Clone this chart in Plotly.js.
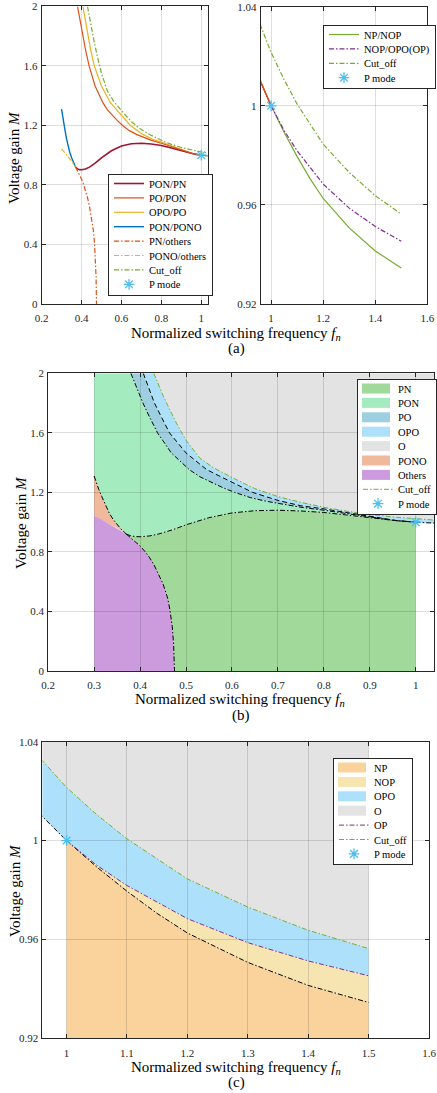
<!DOCTYPE html>
<html><head><meta charset="utf-8">
<script src="https://cdn.plot.ly/plotly-3.0.1.min.js"></script>
<style>html,body{margin:0;padding:0;background:#fff}#chart{width:437px;height:1093px}</style>
</head><body><div id="chart"></div>
<script>
// ---------- data ----------
const fnPNPON = [0.37,0.38,0.39,0.40,0.42,0.44,0.47,0.50,0.55,0.60,0.65,0.70,0.75,0.80,0.85,0.90,0.95,0.96,1.00];
const mPNPON  = [0.920,0.908,0.903,0.902,0.907,0.920,0.948,0.982,1.030,1.062,1.077,1.080,1.075,1.065,1.048,1.028,1.0125,1.0095,1.000];

const fnPOPON = [0.38,0.39,0.406,0.42,0.438,0.45,0.468,0.49,0.507,0.53,0.558,0.58,0.606,0.64,0.675,0.70,0.75,0.80,0.85,0.90,0.95,0.96,1.00];
const mPOPON  = [2.0,1.924,1.802,1.71,1.60,1.546,1.465,1.402,1.353,1.305,1.263,1.232,1.20,1.165,1.14,1.125,1.10,1.08,1.057,1.032,1.013,1.0097,1.0];

const fnOPOPO = [0.407,0.42,0.431,0.445,0.464,0.48,0.50,0.52,0.545,0.57,0.602,0.645,0.70,0.75,0.80,0.85,0.90,0.95,0.96,1.00];
const mOPOPO  = [2.0,1.893,1.802,1.715,1.60,1.54,1.465,1.415,1.353,1.314,1.263,1.20,1.146,1.11,1.089,1.064,1.038,1.014,1.0099,1.0];

const fnPONPONO = [0.30,0.305,0.31,0.317,0.325,0.333,0.341,0.35,0.358,0.366,0.37];
const mPONPONO  = [1.31,1.26,1.22,1.17,1.11,1.06,1.02,0.985,0.955,0.932,0.92];

const fnPONOOth = [0.30,0.315,0.327,0.338,0.349,0.358,0.366,0.37];
const mPONOOth  = [1.043,1.02,0.998,0.98,0.962,0.945,0.928,0.92];

const fnPNOth = [0.37,0.38,0.39,0.40,0.41,0.42,0.43,0.44,0.45,0.46,0.465,0.47,0.473,0.475];
const mPNOth  = [0.92,0.895,0.87,0.84,0.805,0.765,0.715,0.655,0.585,0.49,0.41,0.30,0.18,0.0];

const fnCut = [0.43,0.44,0.45,0.46,0.48,0.50,0.53,0.56,0.60,0.65,0.70,0.75,0.80,0.85,0.90,0.96,1.00,1.05,1.10,1.20,1.30,1.40,1.50];
const mCut  = [2.0,1.92,1.85,1.785,1.66,1.55,1.43,1.365,1.30,1.225,1.172,1.133,1.10,1.073,1.052,1.0323,1.0215,1.0105,1.0007,0.9845,0.9731,0.9637,0.9563];

const fnNP = [1.00,1.05,1.10,1.15,1.20,1.30,1.40,1.50];
const mNP  = [1.000,0.9893,0.9795,0.9705,0.9626,0.9507,0.9414,0.9345];

const fnOP = [1.00,1.05,1.10,1.20,1.30,1.40,1.50];
const mOP  = [1.000,0.990,0.9818,0.9684,0.9587,0.9513,0.9453];

const fnP = [1.0];
const mP  = [1.0];

const xTicksA = [0.2,0.4,0.6,0.8,1];
const yTicksA = [0,0.4,0.8,1.2,1.6,2];
const xTicksR = [1,1.2,1.4,1.6];
const yTicksR = [0.92,0.96,1,1.04];
const xTicksB = [0.2,0.3,0.4,0.5,0.6,0.7,0.8,0.9,1];
const yTicksB = [0,0.4,0.8,1.2,1.6,2];
const xTicksC = [1,1.1,1.2,1.3,1.4,1.5,1.6];
const yTicksC = [0.92,0.96,1,1.04];

// ---------- helpers ----------
const FONT = 'Liberation Serif';
const rev = a => a.slice().reverse();
const cat = (...a) => [].concat(...a);
const last = a => a[a.length - 1];
const DD = '5px,2px,1.5px,2px';
const C = {pnpon:'#A2142F', popon:'#D95319', opopo:'#EDB120', ponpono:'#0072BD',
           green:'#77AC30', purple:'#7E2F8E', star:'#4DBEEE'};

function line(x, y, xa, ya, color, dash, opts) {
  return Object.assign({type:'scatter', mode:'lines', x:x, y:y, xaxis:xa, yaxis:ya,
    line:{color:color, width:1.2, dash:dash || 'solid'}, showlegend:false, hoverinfo:'skip'}, opts || {});
}
function star(xa, ya, lg, rank) {
  return {type:'scatter', mode:'markers', x:fnP, y:mP, xaxis:xa, yaxis:ya, name:'P mode',
    marker:{symbol:'asterisk-open', size:9, color:C.star, line:{color:C.star, width:1.3}},
    legend:lg, legendrank:rank, showlegend:true, hoverinfo:'skip'};
}
function area(x, y, xa, ya, color, name, lg, rank, fill) {
  return {type:'scatter', mode:'lines', x:x, y:y, xaxis:xa, yaxis:ya, fill:fill || 'toself',
    fillcolor:color, line:{width:0, color:color}, name:name, legend:lg, legendrank:rank,
    showlegend:true, hoverinfo:'skip'};
}

const topB = last(yTicksB), topC = last(yTicksC), botB = yTicksB[0];
const traces = [];

// ----- (a) left -----
traces.push(line(fnOPOPO, mOPOPO, 'x', 'y', C.opopo, 'solid', {name:'OPO/PO', showlegend:true, legend:'legend', legendrank:3}));
traces.push(line(fnPNPON, mPNPON, 'x', 'y', C.pnpon, 'solid', {name:'PON/PN', showlegend:true, legend:'legend', legendrank:1, line:{color:C.pnpon, width:1.6}}));
traces.push(line(fnPOPON, mPOPON, 'x', 'y', C.popon, 'solid', {name:'PO/PON', showlegend:true, legend:'legend', legendrank:2}));
traces.push(line(fnPONPONO, mPONPONO, 'x', 'y', C.ponpono, 'solid', {name:'PON/PONO', showlegend:true, legend:'legend', legendrank:4, line:{color:C.ponpono, width:1.4}}));
traces.push(line(fnPNOth, mPNOth, 'x', 'y', C.popon, DD, {name:'PN/others', showlegend:true, legend:'legend', legendrank:5}));
traces.push(line(fnPONOOth, mPONOOth, 'x', 'y', C.opopo, DD, {name:'PONO/others', showlegend:true, legend:'legend', legendrank:6}));
traces.push(line(fnNP, mNP, 'x', 'y', C.green, 'solid'));
traces.push(line(fnOP, mOP, 'x', 'y', C.purple, DD));
traces.push(line(fnCut, mCut, 'x', 'y', C.green, DD, {name:'Cut_off', showlegend:true, legend:'legend', legendrank:7}));
traces.push(star('x', 'y', 'legend', 8));

// ----- (a) right -----
traces.push(line(fnOPOPO, mOPOPO, 'x2', 'y2', C.opopo));
traces.push(line(fnPNPON, mPNPON, 'x2', 'y2', C.pnpon));
traces.push(line(fnPOPON, mPOPON, 'x2', 'y2', C.popon));
traces.push(line(fnNP, mNP, 'x2', 'y2', C.green, 'solid', {name:'NP/NOP', showlegend:true, legend:'legend2', legendrank:1}));
traces.push(line(fnOP, mOP, 'x2', 'y2', C.purple, DD, {name:'NOP/OPO(OP)', showlegend:true, legend:'legend2', legendrank:2}));
traces.push(line(fnCut, mCut, 'x2', 'y2', C.green, DD, {name:'Cut_off', showlegend:true, legend:'legend2', legendrank:3}));
traces.push(star('x2', 'y2', 'legend2', 4));

// ----- (b) fills (subplot 3, drawn below grid of subplot 5) -----
traces.push(area(cat(fnCut, [last(fnCut), fnCut[0]]), cat(mCut, [topB, topB]), 'x3', 'y3', '#e3e3e3', 'O', 'legend3', 5));
traces.push(area(cat(fnCut, rev(fnOP), rev(fnOPOPO)), cat(mCut, rev(mOP), rev(mOPOPO)), 'x3', 'y3', '#ade0fa', 'OPO', 'legend3', 4));
traces.push(area(cat(fnOPOPO, rev(fnPOPON)), cat(mOPOPO, rev(mPOPON)), 'x3', 'y3', '#9dcfe1', 'PO', 'legend3', 3));
traces.push(area(cat([fnPONPONO[0]], fnPOPON, rev(fnPNPON), rev(fnPONPONO)),
                 cat([topB], mPOPON, rev(mPNPON), rev(mPONPONO)), 'x3', 'y3', '#a4ecbf', 'PON', 'legend3', 2));
traces.push(area(cat(fnPNPON, [last(fnPNPON)], rev(fnPNOth)), cat(mPNPON, [botB], rev(mPNOth)), 'x3', 'y3', '#a1d99a', 'PN', 'legend3', 1));
traces.push(area(cat(fnPONOOth, rev(fnPONPONO)), cat(mPONOOth, rev(mPONPONO)), 'x3', 'y3', '#f0b99c', 'PONO', 'legend3', 6));
traces.push(area(cat([fnPONOOth[0]], fnPONOOth, fnPNOth), cat([botB], mPONOOth, mPNOth), 'x3', 'y3', '#cc9bdd', 'Others', 'legend3', 7));

// ----- (b) lines (subplot 5) -----
const blk = {color:'#000', width:1, dash:DD};
traces.push(line(fnPNPON, mPNPON, 'x5', 'y5', '#000', DD, {line:blk}));
traces.push(line(fnPOPON, mPOPON, 'x5', 'y5', '#000', DD, {line:blk}));
traces.push(line(fnOPOPO, mOPOPO, 'x5', 'y5', '#000', '5px,3px', {line:{color:'#000', width:1, dash:'5px,3px'}}));
traces.push(line(fnPONPONO, mPONPONO, 'x5', 'y5', '#000', DD, {line:blk}));
traces.push(line(fnPNOth, mPNOth, 'x5', 'y5', '#000', DD, {line:blk}));
traces.push(line(fnNP, mNP, 'x5', 'y5', '#000', DD, {line:blk}));
traces.push(line(fnCut, mCut, 'x5', 'y5', C.green, DD, {name:'Cut_off', showlegend:true, legend:'legend3', legendrank:8, line:{color:C.green, width:1, dash:DD}}));
traces.push(star('x5', 'y5', 'legend3', 9));

// ----- (c) fills (subplot 4) -----
traces.push(area(cat(fnCut, [last(fnCut), fnCut[0]]), cat(mCut, [topC, topC]), 'x4', 'y4', '#e3e3e3', 'O', 'legend4', 4));
traces.push(area(cat(fnCut, rev(fnOP), rev(fnPOPON)), cat(mCut, rev(mOP), rev(mPOPON)), 'x4', 'y4', '#ade0fa', 'OPO', 'legend4', 3));
traces.push(area(cat(fnOP, rev(fnNP)), cat(mOP, rev(mNP)), 'x4', 'y4', '#f6e4b1', 'NOP', 'legend4', 2));
traces.push(area(fnNP, mNP, 'x4', 'y4', '#f9d29c', 'NP', 'legend4', 1, 'tozeroy'));

// ----- (c) lines (subplot 6) -----
traces.push(line(fnPOPON, mPOPON, 'x6', 'y6', '#000', DD, {line:blk}));
traces.push(line(fnNP, mNP, 'x6', 'y6', '#000', DD, {line:blk}));
traces.push(line(fnOP, mOP, 'x6', 'y6', C.purple, DD, {name:'OP', showlegend:true, legend:'legend4', legendrank:5, line:{color:C.purple, width:1, dash:DD}}));
traces.push(line(fnCut, mCut, 'x6', 'y6', C.green, DD, {name:'Cut_off', showlegend:true, legend:'legend4', legendrank:6, line:{color:C.green, width:1, dash:DD}}));
traces.push(star('x6', 'y6', 'legend4', 7));

// ---------- layout ----------
const W = 437, H = 1093;
const dx = (a, b) => [a / W, b / W];
const dy = (top, bot) => [1 - bot / H, 1 - top / H];
const EPS = 1e-6;

function vis(domain, range, ticks, anchor, isX) {
  return {domain:domain, range:[range[0] - EPS, range[1] + EPS], anchor:anchor,
    tickmode:'array', tickvals:ticks, ticktext:ticks.map(String),
    ticks:'inside', ticklen:4, tickwidth:1, tickcolor:'#262626',
    ticklabelstandoff: isX ? 4 : 1,
    showline:true, linecolor:'#262626', linewidth:1, mirror:'ticks',
    showgrid:true, gridcolor:'rgba(0,0,0,0.13)', gridwidth:1, zeroline:false,
    tickfont:{family:FONT, size:11, color:'#262626'}, fixedrange:true};
}
function hid(domain, range, anchor) {
  return {domain:domain, range:[range[0] - EPS, range[1] + EPS], anchor:anchor, visible:false, fixedrange:true};
}

const dAxL = dx(41.7, 208.7), dAyL = dy(6.4, 304);
const dAxR = dx(261.3, 428.3), dAyR = dy(6.7, 304);
const dBx = dx(48.3, 435.1), dBy = dy(373.3, 671);
const dCx = dx(42.5, 430), dCy = dy(741.7, 1038.3);

const rAx = [0.2, 1.035], rAy = [0, 2];
const rRx = [0.96, 1.6], rRy = [0.92, 1.04];
const rBx = [0.2, 1.04], rBy = [0, 2];
const rCx = [0.96, 1.6], rCy = [0.92, 1.04];

function legendBox(xp, yp) {
  return {x:xp / W, y:1 - yp / H, xanchor:'left', yanchor:'top', bgcolor:'#ffffff',
    bordercolor:'#262626', borderwidth:1, font:{family:FONT, size:10.5, color:'#000'},
    traceorder:'normal', itemwidth:30, tracegroupgap:0};
}
function ann(text, xp, yp, angle) {
  return {text:text, x:xp / W, y:1 - yp / H, xref:'paper', yref:'paper', showarrow:false,
    textangle:angle || 0, xanchor:'center', yanchor:'middle',
    font:{family:FONT, size:15, color:'#000'}};
}
const xTitle = 'Normalized switching frequency <i>f</i><sub><i>n</i></sub>';
const yTitle = 'Voltage gain <i>M</i>';

const layout = {
  width:W, height:H, margin:{l:0, r:0, t:0, b:0}, showlegend:true,
  paper_bgcolor:'#ffffff', plot_bgcolor:'rgba(0,0,0,0)',
  font:{family:FONT, color:'#000'},
  xaxis:vis(dAxL, rAx, xTicksA, 'y', true), yaxis:vis(dAyL, rAy, yTicksA, 'x'),
  xaxis2:vis(dAxR, rRx, xTicksR, 'y2', true), yaxis2:vis(dAyR, rRy, yTicksR, 'x2'),
  xaxis3:hid(dBx, rBx, 'y3'), yaxis3:hid(dBy, rBy, 'x3'),
  xaxis4:hid(dCx, rCx, 'y4'), yaxis4:hid(dCy, rCy, 'x4'),
  xaxis5:vis(dBx, rBx, xTicksB, 'y5', true), yaxis5:vis(dBy, rBy, yTicksB, 'x5'),
  xaxis6:vis(dCx, rCx, xTicksC, 'y6', true), yaxis6:vis(dCy, rCy, yTicksC, 'x6'),
  legend:legendBox(108, 174), legend2:legendBox(323, 25),
  legend3:legendBox(358, 379), legend4:legendBox(333, 758),
  annotations:[
    ann(xTitle, 237, 334), ann('(a)', 237, 348), ann(yTitle, 14, 157, -90),
    ann(xTitle, 241, 700), ann('(b)', 242, 715), ann(yTitle, 21, 522, -90),
    ann(xTitle, 237, 1068), ann('(c)', 237, 1082), ann(yTitle, 15, 890, -90)
  ]
};

const gd = document.getElementById('chart');
Plotly.newPlot(gd, traces, layout, {staticPlot:true, displayModeBar:false}).then(function () {
  const SP = 14.4;
  ['legend', 'legend2', 'legend3', 'legend4'].forEach(function (id) {
    const lg = gd.querySelector('.infolayer g.' + id);
    if (!lg) return;
    const items = Array.from(lg.querySelectorAll('g.traces'));
    items.forEach(function (it, i) {
      const tr = it.getAttribute('transform') || '';
      const m = tr.match(/translate\(\s*([-\d.e]+)[ ,]+([-\d.e]+)\s*\)/);
      const x0 = m ? parseFloat(m[1]) : 1;
      it.setAttribute('transform', 'translate(' + x0 + ',' + (9.5 + i * SP) + ')');
    });
    const bg = lg.querySelector('rect.bg');
    if (bg && items.length) bg.setAttribute('height', 9.5 + (items.length - 1) * SP + 10.5);
    lg.querySelectorAll('path.js-fill').forEach(function (p) { p.setAttribute('d', 'M4,-5h28v10h-28z'); });
  });
});
</script>
</body></html>
